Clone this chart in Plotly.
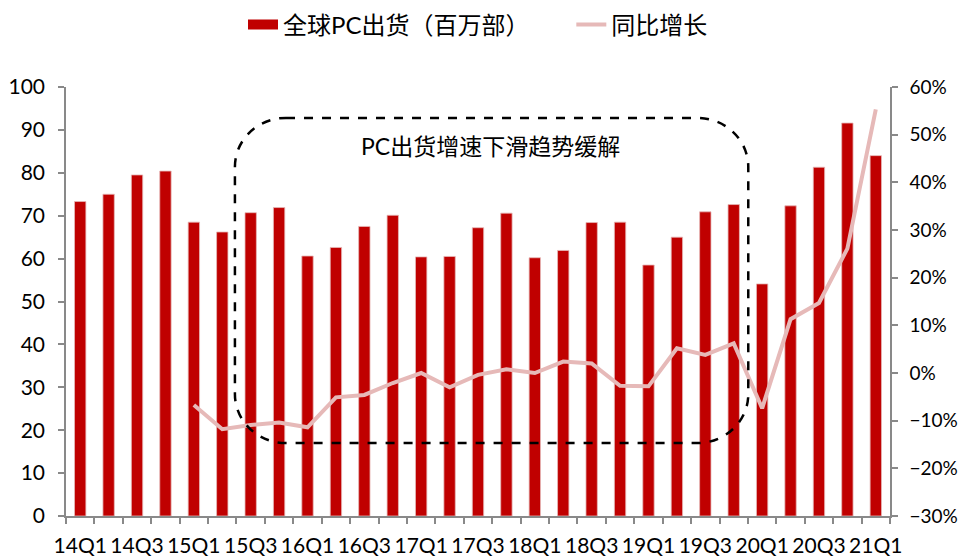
import plotly.graph_objects as go

quarters = ["14Q1", "14Q2", "14Q3", "14Q4", "15Q1", "15Q2", "15Q3", "15Q4",
            "16Q1", "16Q2", "16Q3", "16Q4", "17Q1", "17Q2", "17Q3", "17Q4",
            "18Q1", "18Q2", "18Q3", "18Q4", "19Q1", "19Q2", "19Q3", "19Q4",
            "20Q1", "20Q2", "20Q3", "20Q4", "21Q1"]
shipments = [73.3, 75.0, 79.5, 80.4, 68.5, 66.2, 70.7, 71.9,
             60.6, 62.6, 67.5, 70.1, 60.4, 60.5, 67.2, 70.6,
             60.2, 61.9, 68.4, 68.5, 58.5, 65.0, 70.9, 72.6,
             54.1, 72.3, 81.3, 91.6, 84.0]
yoy = [None, None, None, None, -0.067, -0.118, -0.109, -0.104,
       -0.114, -0.051, -0.046, -0.021, 0.000, -0.030, -0.004, 0.008,
       0.000, 0.024, 0.020, -0.027, -0.028, 0.052, 0.038, 0.062,
       -0.074, 0.113, 0.147, 0.261, 0.553]

x = list(range(len(quarters)))
label_idx = x[::2]

FONT = "Lato, 'Noto Sans CJK SC', sans-serif"
AXIS_COLOR = "#898989"
BAR_COLOR = "#C00000"
LINE_COLOR = "#E6B9B8"
PAD = "\u00a0" * 6

fig = go.Figure()
fig.add_trace(go.Bar(
    x=x, y=shipments, name="全球PC出货（百万部）",
    marker=dict(color=BAR_COLOR, line=dict(color=LINE_COLOR, width=0.8)),
    yaxis="y", showlegend=False,
))
# legend proxy for the bar series (wide rectangle symbol)
fig.add_trace(go.Scatter(
    x=[None], y=[None], name="全球PC出货（百万部）" + PAD, mode="lines",
    line=dict(color=BAR_COLOR, width=14), yaxis="y",
))
fig.add_trace(go.Scatter(
    x=x, y=yoy, name="同比增长", mode="lines",
    line=dict(color=LINE_COLOR, width=4),
    yaxis="y2", connectgaps=False,
))

# rounded dashed rectangle (annotation box) in paper coordinates
x0, x1, y0, y1 = 0.205, 0.828, 0.170, 0.928
rx, ry = 0.062, 0.114
k = 0.5523
path = (
    f"M {x0+rx},{y1} L {x1-rx},{y1} "
    f"C {x1-rx+k*rx},{y1} {x1},{y1-ry+k*ry} {x1},{y1-ry} "
    f"L {x1},{y0+ry} "
    f"C {x1},{y0+ry-k*ry} {x1-rx+k*rx},{y0} {x1-rx},{y0} "
    f"L {x0+rx},{y0} "
    f"C {x0+rx-k*rx},{y0} {x0},{y0+ry-k*ry} {x0},{y0+ry} "
    f"L {x0},{y1-ry} "
    f"C {x0},{y1-ry+k*ry} {x0+rx-k*rx},{y1} {x0+rx},{y1} Z"
)
fig.add_shape(type="path", path=path, xref="paper", yref="paper",
              line=dict(color="black", width=2.5, dash="dash"),
              fillcolor="rgba(0,0,0,0)", layer="above")
fig.add_annotation(text="PC出货增速下滑趋势缓解", xref="paper", yref="paper",
                   x=0.515, y=0.862, xanchor="center", yanchor="middle",
                   showarrow=False,
                   font=dict(size=23, color="black", family=FONT))

TICKFONT = dict(size=21, color="black")

fig.update_layout(
    width=962, height=556,
    margin=dict(l=66, r=72, t=87, b=40),
    paper_bgcolor="white", plot_bgcolor="white",
    font=dict(family=FONT, size=22, color="black"),
    bargap=0.6,
    showlegend=True,
    legend=dict(orientation="h", x=0.5, xanchor="center",
                yref="container", y=0.955, yanchor="middle",
                font=dict(size=24), traceorder="normal"),
    xaxis=dict(
        range=[-0.5, len(quarters) - 0.5],
        tickmode="array", tickvals=label_idx,
        ticktext=[quarters[i] for i in label_idx],
        ticks="", showgrid=False, zeroline=False, tickangle=0,
        showline=True, linecolor=AXIS_COLOR, linewidth=1.5,
        minor=dict(ticks="outside", tickmode="linear", tick0=-0.5, dtick=1,
                   ticklen=6, tickcolor=AXIS_COLOR, tickwidth=1.5, showgrid=False),
        tickfont=TICKFONT, ticklabelstandoff=10, automargin=False,
    ),
    yaxis=dict(
        range=[0, 100], dtick=10, showgrid=False, zeroline=False,
        showline=True, linecolor=AXIS_COLOR, linewidth=1.5,
        ticks="outside", ticklen=6, tickcolor=AXIS_COLOR, tickwidth=1.5,
        tickfont=TICKFONT, ticklabelstandoff=9, automargin=False,
    ),
    yaxis2=dict(
        range=[-0.3, 0.6], dtick=0.1, tickformat=".0%", overlaying="y",
        side="right", showgrid=False, zeroline=False,
        showline=True, linecolor=AXIS_COLOR, linewidth=1.5,
        ticks="outside", ticklen=6, tickcolor=AXIS_COLOR, tickwidth=1.5,
        tickfont=dict(size=19, color="black"), ticklabelstandoff=8,
        automargin=False,
    ),
)

fig.write_html("out.html")
